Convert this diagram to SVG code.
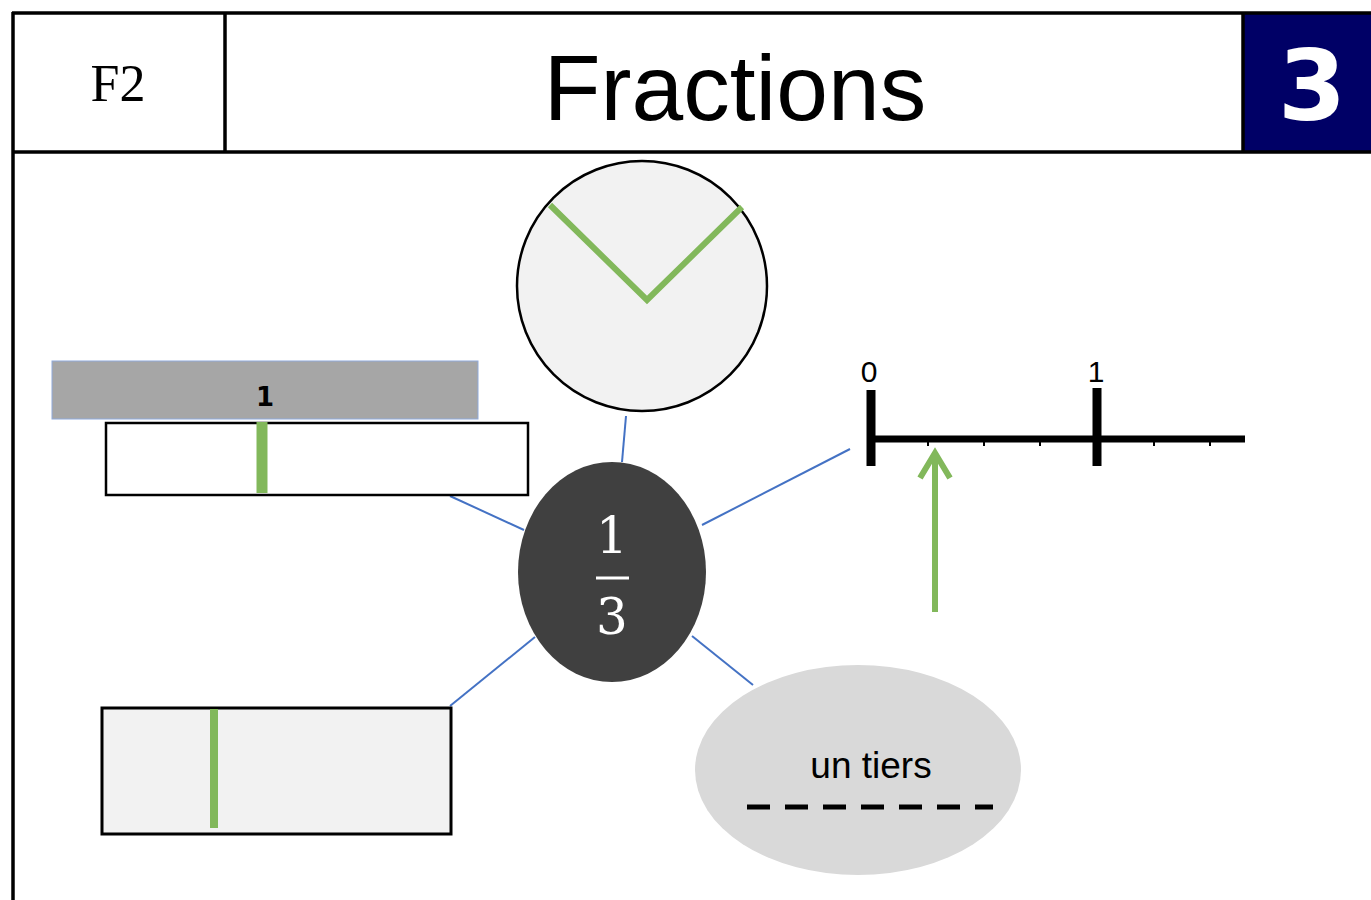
<svg xmlns="http://www.w3.org/2000/svg" width="1371" height="900" viewBox="0 0 1371 900">
<style>
.frame{stroke:#000;stroke-width:3.5;fill:none}
.conn{stroke:#4472c4;stroke-width:2;fill:none}
.green{stroke:#82b85b;fill:none}
.blk{stroke:#000;fill:none}
</style>
<rect width="1371" height="900" fill="#fff"/>
<g id="header">
<rect x="1244" y="13" width="127" height="139" fill="#000066"/>
<line class="frame" x1="12" y1="13" x2="1371" y2="13"/>
<line class="frame" x1="12" y1="152" x2="1371" y2="152"/>
<line class="frame" x1="13" y1="12" x2="13" y2="900"/>
<line class="frame" x1="225" y1="13" x2="225" y2="152"/>
<line class="frame" x1="1243" y1="13" x2="1243" y2="152"/>
<text x="118" y="101" font-family="Liberation Serif, serif" font-size="52" text-anchor="middle">F2</text>
<text x="735" y="120" font-family="Liberation Sans, Arial, sans-serif" font-size="93" text-anchor="middle">Fractions</text>
<text x="1312" y="120" font-family="DejaVu Sans, sans-serif" font-weight="bold" font-size="98" fill="#fff" text-anchor="middle">3</text>
</g>
<g id="connectors">
<line class="conn" x1="626" y1="416" x2="622" y2="462"/>
<line class="conn" x1="702" y1="525" x2="850" y2="449"/>
<line class="conn" x1="450" y1="496" x2="524" y2="530"/>
<line class="conn" x1="450" y1="706" x2="535" y2="637"/>
<line class="conn" x1="692" y1="636" x2="753" y2="685"/>
</g>
<g id="clock">
<circle cx="642" cy="286" r="125" fill="#f2f2f2" stroke="#000" stroke-width="2.5"/>
<polyline class="green" stroke-width="6" points="550,205 647,300 742,207"/>
</g>
<g id="bar-model">
<rect x="52" y="361" width="426" height="58" fill="#a6a6a6" stroke="#8faadc" stroke-width="1"/>
<text x="265" y="406" font-family="DejaVu Sans, sans-serif" font-weight="bold" font-size="26" text-anchor="middle">1</text>
<rect x="106" y="423" width="422" height="72" fill="#fff" stroke="#000" stroke-width="2.5"/>
<line class="green" stroke-width="11" x1="262" y1="422" x2="262" y2="493"/>
</g>
<g id="number-line">
<line class="blk" stroke-width="7" x1="871" y1="439" x2="1245" y2="439"/>
<line class="blk" stroke-width="9" x1="871" y1="390" x2="871" y2="466"/>
<line class="blk" stroke-width="9" x1="1097" y1="388" x2="1097" y2="466"/>
<g class="blk" stroke-width="2">
<line x1="928" y1="439" x2="928" y2="446"/>
<line x1="984" y1="439" x2="984" y2="446"/>
<line x1="1040" y1="439" x2="1040" y2="446"/>
<line x1="1154" y1="439" x2="1154" y2="446"/>
<line x1="1210" y1="439" x2="1210" y2="446"/>
</g>
<text x="869" y="382" font-family="Liberation Sans, Arial, sans-serif" font-size="30" text-anchor="middle">0</text>
<text x="1096" y="382" font-family="Liberation Sans, Arial, sans-serif" font-size="30" text-anchor="middle">1</text>
<line class="green" stroke-width="6" x1="935" y1="612" x2="935" y2="452"/>
<polyline class="green" stroke-width="6" points="920,478 935,453 950,478"/>
</g>
<g id="center">
<ellipse cx="612" cy="572" rx="94" ry="110" fill="#404040"/>
<text x="612" y="553" font-family="DejaVu Serif, Liberation Serif, serif" font-size="50" fill="#fff" text-anchor="middle">1</text>
<line x1="596" y1="578" x2="629" y2="578" stroke="#fff" stroke-width="3"/>
<text x="612" y="634" font-family="DejaVu Serif, Liberation Serif, serif" font-size="50" fill="#fff" text-anchor="middle">3</text>
</g>
<g id="area-model">
<rect x="102" y="708" width="349" height="126" fill="#f2f2f2" stroke="#000" stroke-width="3"/>
<line class="green" stroke-width="8" x1="214" y1="709" x2="214" y2="828"/>
</g>
<g id="words">
<ellipse cx="858" cy="770" rx="163" ry="105" fill="#d9d9d9"/>
<text x="871" y="778" font-family="Liberation Sans, Arial, sans-serif" font-size="37" text-anchor="middle">un tiers</text>
<line class="blk" stroke-width="5" x1="747" y1="807" x2="993" y2="807" stroke-dasharray="23,15"/>
</g>
</svg>
